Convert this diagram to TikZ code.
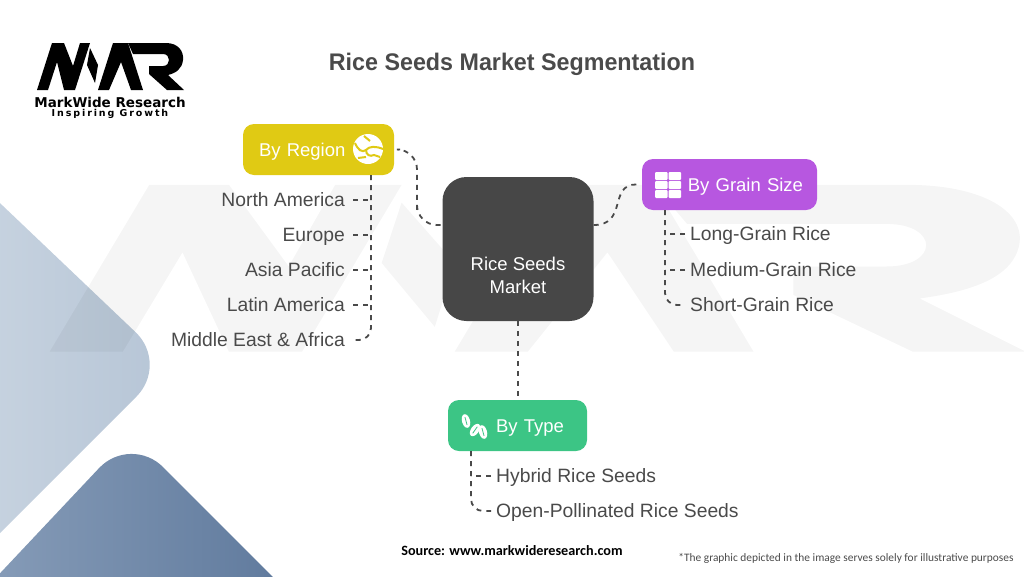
\documentclass[tikz,border=0pt]{standalone}
\usepackage{fontspec}
\setmainfont{Liberation Sans}
\newfontfamily\titlefont[FakeStretch=.97]{Liberation Sans}
\newfontfamily\calibrifont{Carlito}
\newfontfamily\logofont{DejaVu Sans}
\newfontfamily\logospaced[LetterSpace=20]{DejaVu Sans}
\definecolor{inkgray}{HTML}{4A4A4A}
\definecolor{marketgray}{HTML}{474747}
\definecolor{regionyellow}{HTML}{E0CA14}
\definecolor{grainpurple}{HTML}{B757E0}
\definecolor{typegreen}{HTML}{3CC585}
\definecolor{paleleft}{HTML}{CBD6E2}
\definecolor{paleright}{HTML}{B6C5D6}
\definecolor{deepleft}{HTML}{8CA1BC}
\definecolor{deepright}{HTML}{5A7599}
\tikzset{
	headbox/.style={rounded corners=11pt,fill=#1,text=white,minimum height=51pt,inner ysep=0pt,text height=15pt,text depth=2pt,font=\fontsize{18.5}{22}\selectfont},
	itemleft/.style={anchor=east,text=inkgray,inner xsep=8pt,inner ysep=0pt,text height=15pt,text depth=2pt,font=\fontsize{19.3}{23}\selectfont},
	itemright/.style={anchor=west,text=inkgray,inner xsep=5pt,inner ysep=0pt,text height=15pt,text depth=2pt,font=\fontsize{19.3}{23}\selectfont},
	link/.style={draw=inkgray,line width=1.8pt,dash pattern=on 5pt off 5pt},
	trunk/.style={link,rounded corners=12pt},
}
\newcommand{\mwrmark}[1]{
	\fill[#1] (37,90) -- (52,43) -- (64,43) -- (73,66) -- (80,43) -- (90,43) -- (75,90) -- (64,90) -- (57,62) -- (48,90) -- cycle;
	\fill[#1] (90,48) -- (98,65) -- (95,83) -- (87,65) -- cycle;
	\fill[#1] (98,90) -- (113,43) -- (128,43) -- (143,90) -- (131,90) -- (121,62) -- (109,90) -- cycle;
	\fill[#1] (128,43) -- (166,43) .. controls (178,43) and (184,51) .. (183,60) .. controls (182,69) and (176,73) .. (168,75) -- (184,90) -- (167,90) -- (149,74) -- (149,66) -- (163,66) .. controls (171,66) and (171,54) .. (163,54) -- (133,54) -- cycle;
}
\begin{document}
\begin{tikzpicture}[x=1pt,y=-1pt]
	\useasboundingbox (0,0) rectangle (1024,576);
	\begin{scope}
		\clip (0,0) rectangle (1024,576);
		\shade[left color=paleleft,right color=paleright,rounded corners=46pt] (-60,146) -- (169,364) -- (-60,593) -- cycle;
		\shade[shading angle=110,left color=deepleft,right color=deepright,rounded corners=46pt] (-60,637) -- (130.6,434.6) -- (330,634) -- cycle;
	\end{scope}
	\begin{scope}[shift={(-196,32.2)},x=6.64pt,y=-3.55pt]
		\mwrmark{black,opacity=.04}
	\end{scope}
	\mwrmark{black}
	\node (logoname) at (110,102) {\logofont\bfseries\fontsize{13.5}{15}\selectfont MarkWide Research};
	\node (logotag) at (110,114) {\logospaced\bfseries\fontsize{9.5}{11}\selectfont Inspiring Growth};
	\node[text=inkgray,text height=22pt,text depth=4pt,font=\titlefont\bfseries\fontsize{24}{29}\selectfont] (title) at (512,61) {Rice Seeds Market Segmentation};

	\node[fill=marketgray,rounded corners=24pt,minimum width=151pt,minimum height=144pt,text=white,align=center,font=\fontsize{18.5}{23}\selectfont] (market) at (518,249) {\mbox{}\\[44pt]Rice Seeds\\Market};
	\node[headbox=regionyellow,minimum width=151pt,text width=119pt,inner xsep=16pt,align=left] (region) at (318.5,149.5) {By Region};
	\node[headbox=grainpurple,minimum width=175pt,text width=147pt,inner xsep=14pt,align=right] (grain) at (729.5,184.5) {By Grain Size};
	\node[headbox=typegreen,minimum width=139pt,text width=93pt,inner xsep=23pt,align=right] (type) at (517.5,425.5) {By Type};

	\node[itemleft] (america) at (353,200) {North America};
	\node[itemleft] (europe) at (353,235) {Europe};
	\node[itemleft] (asia) at (353,270) {Asia Pacific};
	\node[itemleft] (latin) at (353,305) {Latin America};
	\node[itemleft] (mea) at (353,340) {Middle East \& Africa};
	\node[itemright] (long) at (685,234) {Long-Grain Rice};
	\node[itemright] (medium) at (685,270) {Medium-Grain Rice};
	\node[itemright] (short) at (685,305) {Short-Grain Rice};
	\node[itemright] (hybrid) at (491,476) {Hybrid Rice Seeds};
	\node[itemright] (open) at (491,511) {Open-Pollinated Rice Seeds};

	\coordinate (regionbend) at (417,190);
	\coordinate (regionstem) at (371,175);
	\coordinate (grainstem) at (665,210);
	\coordinate (typestem) at (471,451);

	\draw[link,rounded corners=20pt,shorten <=6pt] (region.east) -| (regionbend) |- ([yshift=24pt]market.west);
	\draw[link,shorten >=5pt] ([yshift=24pt]market.east) .. controls (628,225) and (608,184) .. (grain.west);
	\draw[link] (market.south) -- (market.south |- type.north);

	\draw[trunk] (regionstem) |- (mea.east);
	\foreach \n in {america,europe,asia,latin}
		\draw[link] (\n.east) -- (\n.east -| regionstem);
	\draw[trunk] (grainstem) |- (short.west);
	\foreach \n in {long,medium}
		\draw[link] (\n.west) -- (\n.west -| grainstem);
	\draw[trunk] (typestem) |- (open.west);
	\draw[link] (hybrid.west) -- (hybrid.west -| typestem);

	% icons
	\fill[white] (368,149) circle (15);
	\draw[regionyellow,line width=2pt] (355,143) .. controls (358,150) and (362,153) .. (366,150) .. controls (369,146) and (376,146) .. (383,149);
	\draw[regionyellow,line width=2pt] (366,150) .. controls (366,155) and (370,157) .. (374,155) -- (380,157);
	\draw[regionyellow,line width=2pt] (364,136) -- (370,141);
	\draw[regionyellow,line width=2pt] (358,158) -- (366,157);
	\foreach \i in {0,1}
		\foreach \j in {0,1,2}
			\fill[white,rounded corners=1pt] ({655+\i*13.5},{172+\j*9}) rectangle ++(12.5,8);
	\foreach \cx/\cy/\a in {466/421/15,475/430/-35,483/432/15}{
		\fill[white,rotate around={\a:(\cx,\cy)}] (\cx,\cy) ellipse (4 and 7);
		\draw[typegreen,line width=.8pt,rotate around={\a:(\cx,\cy)}] (\cx,{\cy-4}) -- (\cx,{\cy+4});
	}

	\node[font=\calibrifont\bfseries\fontsize{14.2}{17}\selectfont] (source) at (512,551) {Source: www.markwideresearch.com};
	\node[text=inkgray,font=\calibrifont\fontsize{11.4}{14}\selectfont] (note) at (846,558) {*The graphic depicted in the image serves solely for illustrative purposes};
\end{tikzpicture}
\end{document}
